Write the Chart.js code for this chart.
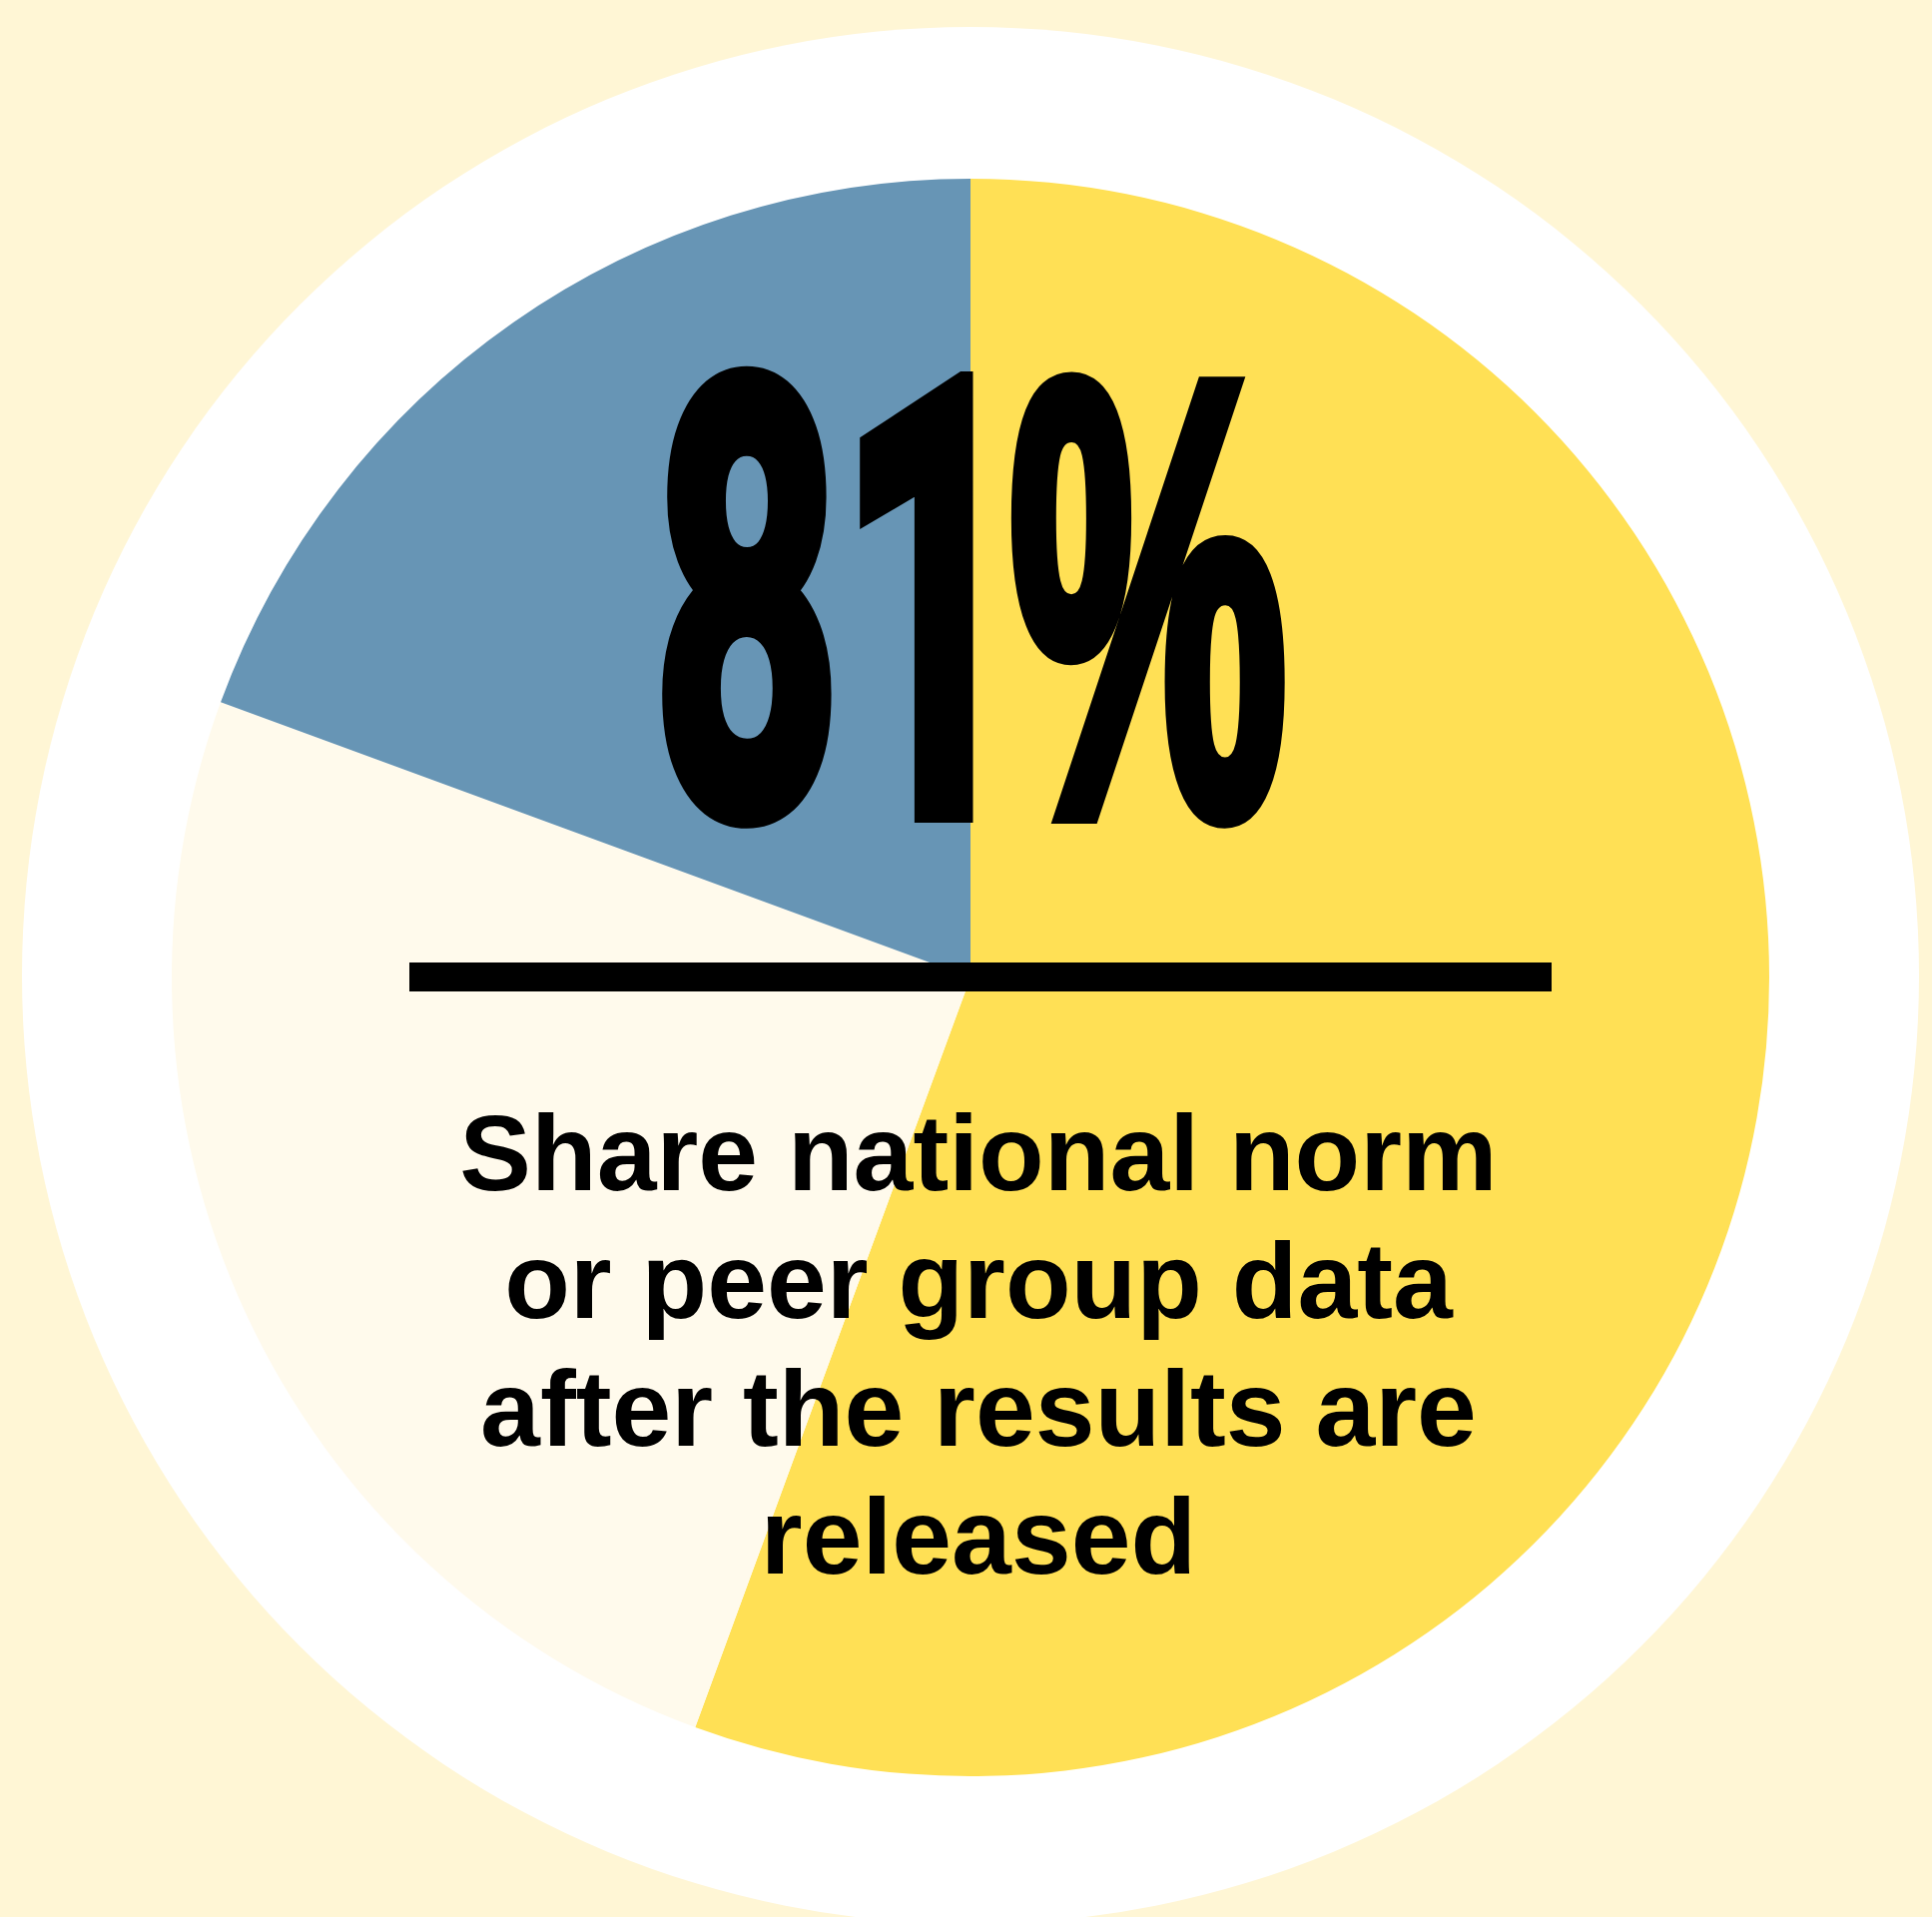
<!DOCTYPE html>
<html>
<head>
<meta charset="utf-8">
<script src="https://cdn.jsdelivr.net/npm/chart.js@4"></script>
<style>
    body { margin: 0; background: #FFF6D5; }
    #wrap { position: relative; width: 1935px; height: 1920px; overflow: hidden; }
    #c { position: absolute; left: 0; top: 0; }
    #big { position: absolute; left: 0; top: 0; width: 1935px; height: 900px; color: #000; }
    #big span {
        position: absolute; left: 0; display: block; text-align: center;
        font-weight: bold; -webkit-text-stroke: 24px #000; white-space: nowrap;
    }
    #num {
        top: 306px; width: 1682px;
        font-family: Roboto, 'Liberation Sans', sans-serif;
        font-size: 601px; line-height: 601px;
        transform: scaleX(0.54); transform-origin: 841px 0;
    }
    #pct {
        top: 292px; width: 2300px;
        font-family: 'Liberation Sans', Arial, sans-serif;
        font-size: 616px; line-height: 616px;
        transform: scaleX(0.507); transform-origin: 1150px 0;
    }
    #label {
        position: absolute; left: 0; top: 1091px; width: 1960px;
        text-align: center; font-family: 'Liberation Sans', Arial, sans-serif; font-weight: bold;
        font-size: 107.5px; line-height: 128px; color: #000;
    }
</style>
</head>
<body>
<div id="wrap">
    <canvas id="c" width="1935" height="1920"></canvas>
    <div id="big"><span id="num"></span><span id="pct"></span></div>
    <div id="label"></div>
</div>
<script>
// slices, clockwise from 12 o'clock
const sliceLabels = ['Share after release', 'Other yes', 'No'];
const sliceValues = [55.6, 25.0, 19.4];
const sliceColors = ['#FFE055', '#FFFAEC', '#6795B5'];
const headlineValue = '81';
const headlineUnit = '%';
const labelLines = ['Share national norm', 'or peer group data', 'after the results are', 'released'];

document.getElementById('num').textContent = headlineValue;
document.getElementById('pct').textContent = headlineUnit;
document.getElementById('label').innerHTML = labelLines.join('<br>');

// cream page, white disc behind the pie, black rule over it
const decor = {
    id: 'decor',
    beforeDraw(chart) {
        const ctx = chart.ctx;
        ctx.save();
        ctx.fillStyle = '#FFF6D5';
        ctx.fillRect(0, 0, chart.width, chart.height);
        ctx.fillStyle = '#FFFFFF';
        ctx.beginPath();
        ctx.arc(972, 977, 950, 0, Math.PI * 2);
        ctx.fill();
        ctx.restore();
    },
    afterDraw(chart) {
        const ctx = chart.ctx;
        ctx.save();
        ctx.fillStyle = '#000';
        ctx.fillRect(410, 964, 1144, 29);
        ctx.restore();
    }
};

new Chart(document.getElementById('c'), {
    type: 'pie',
    data: {
        labels: sliceLabels,
        datasets: [{
            data: sliceValues,
            backgroundColor: sliceColors,
            borderWidth: 0,
            hoverOffset: 0
        }]
    },
    options: {
        responsive: false,
        animation: false,
        devicePixelRatio: 1,
        layout: { padding: { left: 172, right: 163, top: 179, bottom: 141 } },
        plugins: { legend: { display: false }, tooltip: { enabled: false } }
    },
    plugins: [decor]
});
</script>
</body>
</html>
